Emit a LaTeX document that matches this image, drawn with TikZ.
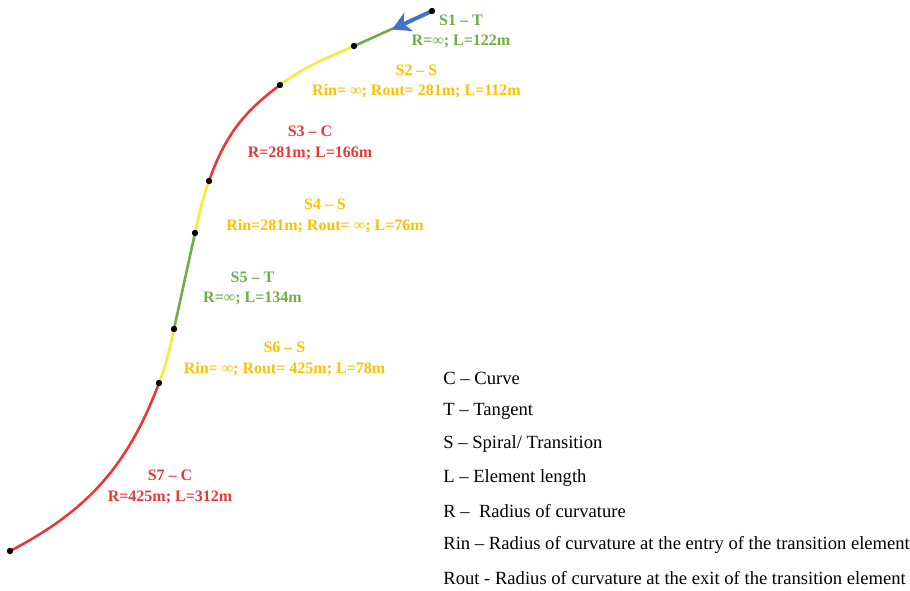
\documentclass[tikz,border=0pt]{standalone}
\usepackage{fontspec}
\setmainfont{Liberation Serif}
\usetikzlibrary{arrows.meta}
\definecolor{cgreen}{RGB}{112,173,71}
\definecolor{cyellowtext}{RGB}{255,192,0}
\definecolor{cyellow}{RGB}{246,234,58}
\definecolor{cred}{RGB}{232,56,58}
\definecolor{cblue}{RGB}{68,114,196}
\tikzset{
  seg/.style={line width=1.3pt},
  lbl/.style={font=\bfseries\fontsize{8}{10.2}\selectfont, align=center, inner sep=0pt},
  legend/.style={font=\fontsize{9.3}{11}\selectfont, anchor=west, inner sep=0pt},
  dot/.style={fill=black},
}
\begin{document}
\begin{tikzpicture}[x=0.5pt,y=0.5pt]
\useasboundingbox (0,0) rectangle (910,-590);
% points along the alignment
\coordinate (p0) at (432,-11);
\coordinate (p1) at (354,-46);
\coordinate (p2) at (280,-85);
\coordinate (p3) at (209,-181);
\coordinate (p4) at (195,-233);
\coordinate (p5) at (174,-329);
\coordinate (p6) at (159,-383);
\coordinate (p7) at (10,-551);
\coordinate (atip) at (392,-29.5);
% segments
\draw[seg, cgreen] (p0) -- (p1);
\draw[seg, cyellow] (p1) to[out=204.2, in=36.5] (p2);
\draw[seg, cred] (p2) to[out=216.5, in=70.5] (p3);
\draw[seg, cyellow] (p3) to[out=250.5, in=77.7] (p4);
\draw[seg, cgreen] (p4) -- (p5);
\draw[seg, cyellow] (p5) to[out=257.7, in=69.4] (p6);
\draw[seg, cred] (p6) to[out=249.4, in=27.4] (p7);
% arrow
\draw[cblue, line width=2pt, -{Stealth[length=9pt, width=10pt, inset=2.5pt]}] (p0) -- (atip);
% dots
\foreach \p in {p0,p1,p2,p3,p4,p5,p6,p7}
  \fill[dot] (\p) circle (1.6pt);
% labels
\node[lbl, text=cgreen] (s1) at (461,-31.5) {S1 – T\\R=∞; L=122m};
\node[lbl, text=cyellowtext] (s2) at (416.5,-81.5) {S2 – S\\Rin= ∞; Rout= 281m; L=112m};
\node[lbl, text=cred] (s3) at (310,-143) {S3 – C\\R=281m; L=166m};
\node[lbl, text=cyellowtext] (s4) at (325,-216) {S4 – S\\Rin=281m; Rout= ∞; L=76m};
\node[lbl, text=cgreen] (s5) at (252.5,-288.5) {S5 – T\\R=∞; L=134m};
\node[lbl, text=cyellowtext] (s6) at (284.5,-359) {S6 – S\\Rin= ∞; Rout= 425m; L=78m};
\node[lbl, text=cred] (s7) at (170,-487) {S7 – C\\R=425m; L=312m};
% legend
\node[legend] (l1) at (443,-378) {C – Curve};
\node[legend] (l2) at (443,-411) {T – Tangent};
\node[legend] (l3) at (443,-444) {S – Spiral/ Transition};
\node[legend] (l4) at (443,-478) {L – Element length};
\node[legend] (l5) at (443,-511) {R –\ \ Radius of curvature};
\node[legend] (l6) at (443,-545) {Rin – Radius of curvature at the entry of the transition element};
\node[legend] (l7) at (443,-578) {Rout - Radius of curvature at the exit of the transition element};
\end{tikzpicture}
\end{document}
